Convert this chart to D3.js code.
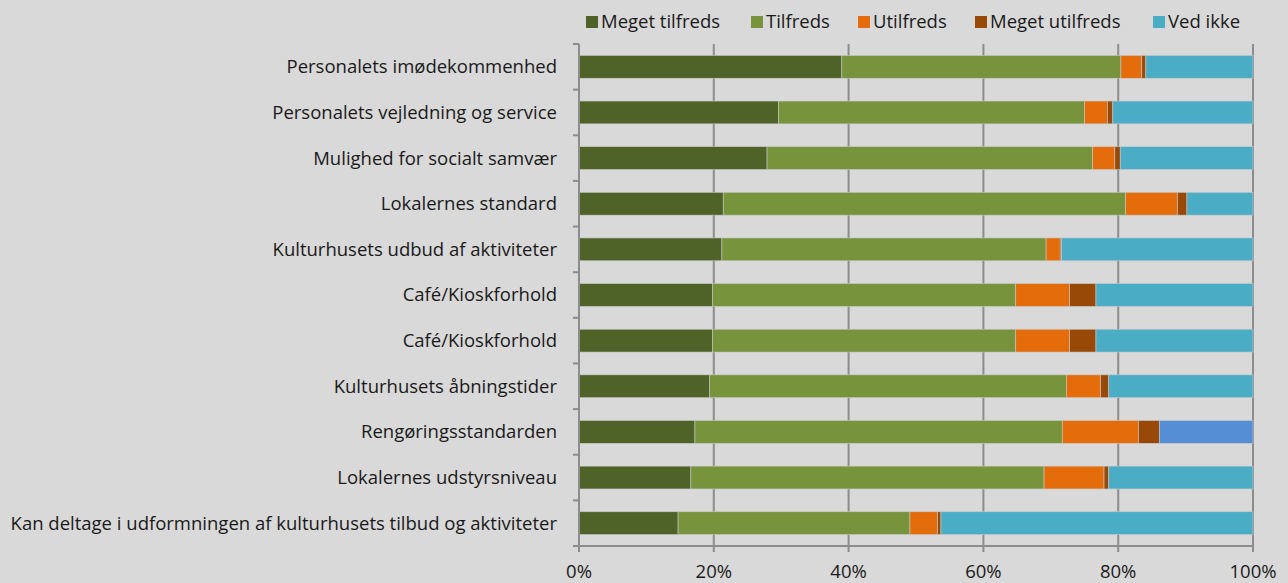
<!DOCTYPE html>
<html>
<head>
<meta charset="utf-8">
<script src="https://cdn.jsdelivr.net/npm/d3@7"></script>
<style>
  body { margin: 0; background: #d9d9d9; }
  svg { display: block; font-family: "Open Sans", Lato, sans-serif; }
</style>
</head>
<body>
<div id="chart"></div>
<script>
// categories top to bottom
var categories = [
  "Personalets imødekommenhed",
  "Personalets vejledning og service",
  "Mulighed for socialt samvær",
  "Lokalernes standard",
  "Kulturhusets udbud af aktiviteter",
  "Café/Kioskforhold",
  "Café/Kioskforhold ",
  "Kulturhusets åbningstider",
  "Rengøringsstandarden",
  "Lokalernes udstyrsniveau",
  "Kan deltage i udformningen af kulturhusets tilbud og aktiviteter"
];
var seriesNames = ["Meget tilfreds", "Tilfreds", "Utilfreds", "Meget utilfreds", "Ved ikke"];
var megetTilfreds  = [39.0, 29.6, 27.9, 21.4, 21.2, 19.8, 19.8, 19.4, 17.2, 16.6, 14.7];
var tilfreds       = [41.4, 45.4, 48.3, 59.7, 48.1, 45.0, 45.0, 52.9, 54.5, 52.4, 34.4];
var utilfreds      = [ 3.1,  3.4,  3.3,  7.7,  2.1,  8.0,  8.0,  5.1, 11.3,  8.9,  4.1];
var megetUtilfreds = [ 0.6,  0.8,  0.8,  1.4,  0.2,  3.9,  3.9,  1.2,  3.1,  0.7,  0.5];
var vedIkke        = [15.9, 20.8, 19.7,  9.8, 28.4, 23.3, 23.3, 21.4, 13.9, 21.4, 46.3];
var xTicks = [0, 20, 40, 60, 80, 100];

var colors = ["#4f6228", "#77933c", "#e46c0a", "#984807", "#4bacc6"];
// one bar has a different blue for "Ved ikke"
var overrideColor = { "Rengøringsstandarden": "#558ed5" };

var width = 1288, height = 583;
var margin = { top: 44, right: 35, bottom: 37, left: 579 };
var fontSize = 18.5;

var rows = categories.map(function(c, i) {
  return {
    cat: c,
    "Meget tilfreds": megetTilfreds[i],
    "Tilfreds": tilfreds[i],
    "Utilfreds": utilfreds[i],
    "Meget utilfreds": megetUtilfreds[i],
    "Ved ikke": vedIkke[i]
  };
});

var stack = d3.stack().keys(seriesNames);
var layers = stack(rows);

var svg = d3.select("#chart").append("svg")
  .attr("width", width)
  .attr("height", height);

var x = d3.scaleLinear().domain([0, 100]).range([margin.left, width - margin.right]);
var y = d3.scaleBand().domain(categories).range([margin.top, height - margin.bottom]).paddingInner(0.5).paddingOuter(0.25);

// gridlines
svg.append("g")
  .selectAll("line")
  .data(xTicks.slice(1))
  .enter().append("line")
  .attr("x1", function(d) { return x(d); })
  .attr("x2", function(d) { return x(d); })
  .attr("y1", margin.top)
  .attr("y2", height - margin.bottom)
  .attr("stroke", "#8c8c8c")
  .attr("stroke-width", 2);

// bars
svg.append("g")
  .selectAll("g")
  .data(layers)
  .enter().append("g")
  .each(function(layer, li) {
    d3.select(this).selectAll("rect")
      .data(layer)
      .enter().append("rect")
      .attr("x", function(d) { return x(d[0]); })
      .attr("width", function(d) { return x(d[1]) - x(d[0]); })
      .attr("y", function(d) { return y(d.data.cat); })
      .attr("height", y.bandwidth())
      .attr("fill", function(d) {
        if (li === 4 && overrideColor[d.data.cat]) return overrideColor[d.data.cat];
        return colors[li];
      })
      .attr("stroke", "#c8c8c8")
      .attr("stroke-width", 0.6);
  });

// y axis
var yAxis = svg.append("g")
  .attr("transform", "translate(" + margin.left + ",0)");
yAxis.append("line")
  .attr("x1", 0).attr("x2", 0)
  .attr("y1", margin.top).attr("y2", height - margin.bottom)
  .attr("stroke", "#8c8c8c").attr("stroke-width", 2);
var step = y.step();
yAxis.selectAll(".ytick")
  .data(d3.range(categories.length + 1))
  .enter().append("line")
  .attr("x1", -6).attr("x2", 0)
  .attr("y1", function(i) { return margin.top + i * step; })
  .attr("y2", function(i) { return margin.top + i * step; })
  .attr("stroke", "#8c8c8c").attr("stroke-width", 2);
yAxis.selectAll("text")
  .data(categories)
  .enter().append("text")
  .attr("x", -22)
  .attr("y", function(d) { return y(d) + y.bandwidth() / 2; })
  .attr("dy", "0.35em")
  .attr("text-anchor", "end")
  .attr("font-size", fontSize)
  .attr("fill", "#1a1a1a")
  .text(function(d) { return d.trim(); });

// x axis
var xAxis = svg.append("g")
  .attr("transform", "translate(0," + (height - margin.bottom) + ")");
xAxis.append("line")
  .attr("x1", margin.left).attr("x2", width - margin.right)
  .attr("stroke", "#8c8c8c").attr("stroke-width", 2);
xAxis.selectAll(".xtick")
  .data(xTicks)
  .enter().append("line")
  .attr("x1", function(d) { return x(d); })
  .attr("x2", function(d) { return x(d); })
  .attr("y1", 0).attr("y2", 6)
  .attr("stroke", "#8c8c8c").attr("stroke-width", 2);
xAxis.selectAll("text")
  .data(xTicks)
  .enter().append("text")
  .attr("x", function(d) { return x(d); })
  .attr("y", 32)
  .attr("text-anchor", "middle")
  .attr("font-size", fontSize)
  .attr("fill", "#1a1a1a")
  .text(function(d) { return d + "%"; });

// legend
var legendX = [586, 751, 858, 975, 1153];
var legend = svg.append("g").selectAll("g")
  .data(seriesNames)
  .enter().append("g")
  .attr("transform", function(d, i) { return "translate(" + legendX[i] + ",16)"; });
legend.append("rect")
  .attr("width", 12).attr("height", 12)
  .attr("fill", function(d, i) { return colors[i]; });
legend.append("text")
  .attr("x", 15)
  .attr("y", 6)
  .attr("dy", "0.35em")
  .attr("font-size", fontSize)
  .attr("fill", "#1a1a1a")
  .text(function(d) { return d; });
</script>
</body>
</html>
